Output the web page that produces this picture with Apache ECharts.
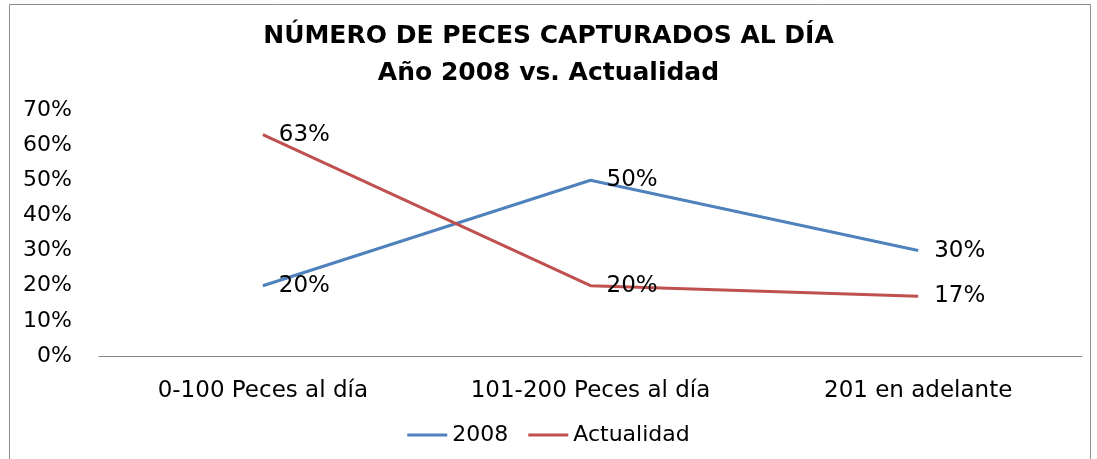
<!DOCTYPE html>
<html lang="es">
<head>
  <meta charset="UTF-8">
  <title>Peces capturados</title>
  <style>
    html, body {margin: 0; padding: 0; background: #fff;}
    #chart {width: 1097px; height: 459px;}
  </style>
</head>
<body>
  <div id="chart"></div>
  <script src="https://cdn.jsdelivr.net/npm/echarts@6/dist/echarts.min.js"></script>
  <script>
    var categories = ['0-100 Peces al día', '101-200 Peces al día', '201 en adelante'];
    var serie2008 = [20, 50, 30];
    var serieActual = [63, 20, 17];
    var yTicks = [0, 10, 20, 30, 40, 50, 60, 70];

    var chart = echarts.init(document.getElementById('chart'));

    // etiquetas de datos a la derecha del punto, como en Excel
    var labelStyle = {
      show: true,
      position: 'right',
      distance: 16,
      color: '#000',
      fontFamily: 'DejaVu Sans',
      fontSize: 23,
      formatter: '{c}%'
    };

    var option = {
      animation: false,
      title: {
        text: 'NÚMERO DE PECES CAPTURADOS AL DÍA\nAño 2008 vs. Actualidad',
        left: 'center',
        top: 13,
        textStyle: {
          fontFamily: 'DejaVu Sans',
          fontWeight: 'bold',
          fontSize: 25,
          lineHeight: 37,
          color: '#000'
        }
      },
      graphic: [{
        type: 'rect',
        shape: {x: 9.5, y: 4.5, width: 1081, height: 460},
        style: {fill: 'none', stroke: '#8c8c8c', lineWidth: 1},
        silent: true
      }],
      legend: {
        bottom: 8,
        left: 'center',
        itemWidth: 40,
        itemHeight: 3,
        itemGap: 20,
        icon: 'rect',
        textStyle: {fontFamily: 'DejaVu Sans', fontSize: 22, color: '#000'},
        data: ['2008', 'Actualidad']
      },
      grid: {left: 99, right: 15, top: 110, bottom: 103},
      xAxis: {
        type: 'category',
        data: categories,
        boundaryGap: true,
        axisTick: {show: false},
        axisLine: {lineStyle: {color: '#868686', width: 1}},
        axisLabel: {
          margin: 24,
          color: '#000',
          fontFamily: 'DejaVu Sans',
          fontSize: 23
        }
      },
      yAxis: {
        type: 'value',
        min: yTicks[0],
        max: yTicks[yTicks.length - 1],
        interval: 10,
        splitLine: {show: false},
        axisLine: {show: false},
        axisTick: {show: false},
        axisLabel: {
          margin: 27,
          color: '#000',
          fontFamily: 'DejaVu Sans',
          fontSize: 22,
          formatter: '{value}%'
        }
      },
      series: [{
        name: '2008',
        type: 'line',
        data: serie2008,
        symbol: 'circle',
        symbolSize: 0,
        color: '#4F81BD',
        lineStyle: {width: 3, color: '#4F81BD'},
        label: labelStyle
      }, {
        name: 'Actualidad',
        type: 'line',
        data: serieActual,
        symbol: 'circle',
        symbolSize: 0,
        color: '#C0504D',
        lineStyle: {width: 3, color: '#C0504D'},
        label: labelStyle
      }]
    };

    chart.setOption(option);
  </script>
</body>
</html>
